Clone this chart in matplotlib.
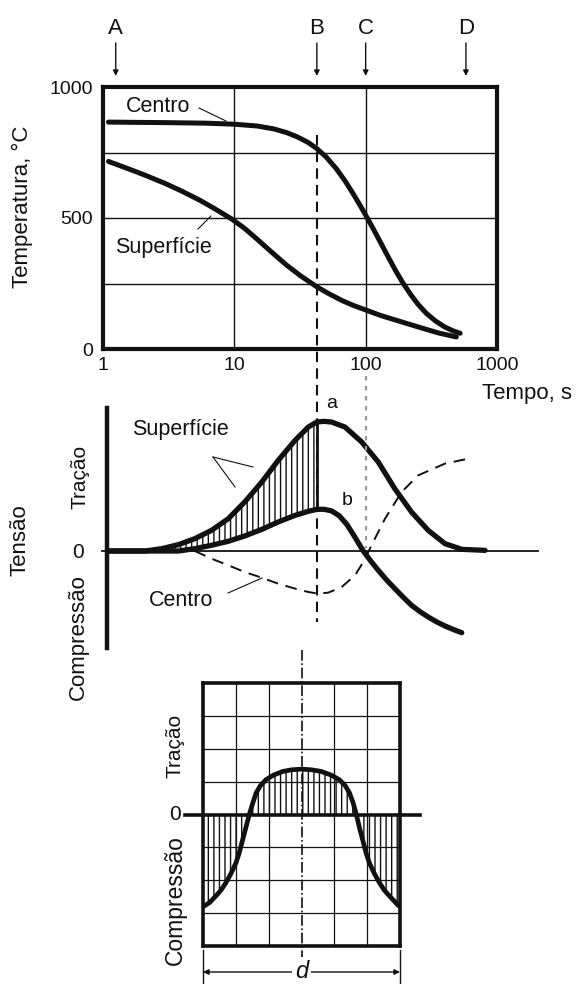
import numpy as np
import matplotlib
matplotlib.use('Agg')
import matplotlib.pyplot as plt
from matplotlib.lines import Line2D
from matplotlib.ticker import NullLocator
from matplotlib.transforms import blended_transform_factory as blend

plt.rcParams['font.family'] = ['Liberation Sans', 'DejaVu Sans']
plt.rcParams['hatch.linewidth'] = 1.0

# ---------------- data ----------------
# top panel: temperature vs time (log)
cen_T_t = [1.1, 3, 6, 10, 15, 20, 25, 30, 36, 42, 50, 60, 70, 80, 90, 100, 115, 130, 150, 170, 190, 220, 250, 290, 340, 400, 460, 524]
cen_T = [866, 864, 862, 858, 851, 840, 826, 810, 790, 767, 733, 687, 640, 594, 551, 511, 456, 406, 347, 297, 256, 208, 171, 136, 107, 84, 70, 60]
sup_T_t = [1.1, 1.5, 2.1, 3, 4, 5.5, 7, 9.5, 12, 15, 19, 25, 32, 42, 52, 66, 80, 100, 130, 170, 220, 280, 360, 490]
sup_T = [716, 691, 663, 631, 602, 567, 537, 497, 460, 418, 372, 320, 279, 239, 212, 185, 167, 149, 128, 110, 93, 77, 61, 46]
x_ticks = [1, 10, 100, 1000]
x_tick_labels = ['1', '10', '100', '1000']
y_ticks = [0, 500, 1000]
y_tick_labels = ['0', '500', '1000']
stage_labels = ['A', 'B', 'C', 'D']
stage_t = [1.25, 42.5, 100, 580]

# middle panel: stress vs time (log)
sup_s_t = [1.07, 2.09, 2.8, 3.75, 5.0, 6.7, 9.0, 12.0, 16.2, 21.6, 29, 36.6, 42.5, 48, 55, 69.7, 93.4, 125, 167, 224, 300, 402, 540, 813]
sup_s = [0, 0, 0.018, 0.049, 0.095, 0.159, 0.249, 0.378, 0.532, 0.699, 0.853, 0.956, 0.995, 1.0, 0.995, 0.956, 0.841, 0.686, 0.48, 0.30, 0.159, 0.057, 0.013, 0.005]
cen_s_t = [1.07, 3.75, 5.0, 6.7, 9.0, 12.0, 16.2, 21.6, 29, 36.6, 42.5, 48, 55, 63, 72, 82, 96, 110, 125, 145, 167, 195, 224, 260, 300, 350, 402, 470, 540]
cen_s = [0, 0, 0.018, 0.044, 0.075, 0.116, 0.167, 0.224, 0.275, 0.306, 0.321, 0.322, 0.31, 0.272, 0.205, 0.115, 0, -0.08, -0.149, -0.225, -0.29, -0.36, -0.419, -0.468, -0.509, -0.548, -0.578, -0.607, -0.63]
cen_dash_t = [5.0, 6.7, 9.0, 12.0, 16.2, 21.6, 29, 36.6, 43.7, 52, 65.7, 83, 96, 111, 140.5, 188, 252, 402, 604]
cen_dash_s = [0, -0.059, -0.11, -0.162, -0.206, -0.252, -0.29, -0.316, -0.329, -0.321, -0.278, -0.188, -0.085, 0.044, 0.249, 0.455, 0.584, 0.674, 0.712]

# bottom panel: residual stress across section d
pos_x = [-2.96, -2.8, -2.6, -2.45, -2.3, -2.15, -2.0, -1.9, -1.8, -1.7, -1.59, -1.48, -1.38, -1.25, -1.08, -0.85, -0.57, -0.3, 0,
         0.3, 0.6, 0.9, 1.15, 1.33, 1.46, 1.57, 1.67, 1.77, 1.87, 1.97, 2.07, 2.22, 2.37, 2.52, 2.7, 2.96]
res_s = [-2.78, -2.68, -2.47, -2.3, -2.07, -1.8, -1.48, -1.18, -0.8, -0.42, 0, 0.36, 0.66, 0.88, 1.06, 1.2, 1.31, 1.36, 1.38,
         1.36, 1.31, 1.2, 1.06, 0.88, 0.66, 0.36, 0, -0.42, -0.8, -1.18, -1.48, -1.8, -2.07, -2.3, -2.5, -2.78]

# ---------------- figure ----------------
W, H = 579, 984
fig = plt.figure(figsize=(W / 100, H / 100), dpi=100)
INK = '#111111'


def fy(y):
    return 1 - y / H


def fx(x):
    return x / W


def rect(l, t, r, b):
    return [l / W, 1 - b / H, (r - l) / W, (b - t) / H]


def ftext(x, y, s, **kw):
    kw.setdefault('fontsize', 15.5)
    kw.setdefault('ha', 'center')
    kw.setdefault('va', 'center')
    kw.setdefault('color', INK)
    fig.text(fx(x), fy(y), s, **kw)


def fline(xs, ys, **kw):
    kw.setdefault('color', INK)
    fig.add_artist(Line2D([fx(v) for v in xs], [fy(v) for v in ys], transform=fig.transFigure, **kw))

# ---- top panel ----
ax1 = fig.add_axes(rect(103, 87, 497, 349))
ax1.set_xscale('log')
ax1.set_xlim(1, 1000)
ax1.set_ylim(0, 1000)
for sp in ax1.spines.values():
    sp.set_linewidth(3)
    sp.set_color(INK)
ax1.xaxis.set_minor_locator(NullLocator())
ax1.set_xticks(x_ticks)
ax1.set_xticklabels(x_tick_labels)
ax1.set_yticks(y_ticks)
ax1.set_yticklabels(y_tick_labels)
ax1.tick_params(axis='x', length=0, labelsize=14, pad=6, colors=INK)
ax1.tick_params(axis='y', length=0, labelsize=14, pad=7, colors=INK)
for v in [250, 500, 750]:
    ax1.axhline(v, color=INK, lw=1.0, zorder=1)
for v in [10, 100]:
    ax1.axvline(v, color=INK, lw=1.0, zorder=1)
ax1.plot(cen_T_t, cen_T, color=INK, lw=3.6, solid_capstyle='round', solid_joinstyle='round', zorder=3)
ax1.plot(sup_T_t, sup_T, color=INK, lw=3.6, solid_capstyle='round', solid_joinstyle='round', zorder=3)

tr1 = blend(ax1.transData, fig.transFigure)
for lab, t in zip(stage_labels, stage_t):
    ax1.annotate('', xy=(t, fy(76)), xytext=(t, fy(43)), xycoords=tr1, textcoords=tr1,
                 arrowprops=dict(arrowstyle='-|>', lw=1.0, color=INK, mutation_scale=8,
                                 shrinkA=0, shrinkB=0), annotation_clip=False)
    ax1.text(t, fy(28), lab, transform=tr1, fontsize=16, ha='center', va='center', color=INK, clip_on=False)

# B dashed line across panels, C dotted line
fig.add_artist(Line2D([stage_t[1], stage_t[1]], [fy(135), fy(622)], transform=tr1,
                      color=INK, lw=1.5, ls=(0, (5, 3))))
fig.add_artist(Line2D([stage_t[2], stage_t[2]], [fy(376), fy(548)], transform=tr1,
                      color='#999999', lw=1.6, ls=(0, (2, 2.5))))

ftext(22, 207, 'Temperatura, °C', rotation=90, fontsize=16)
ftext(158, 106, 'Centro')
fline([199, 226], [108, 121], lw=0.8)
ftext(163, 247, 'Superfície')
fline([198, 211], [229, 216], lw=0.8)
ftext(482, 394, 'Tempo, s', ha='left', fontsize=16)

# ---- middle panel ----
ax2 = fig.add_axes(rect(107, 408, 538, 648))
ax2.set_xscale('log')
ax2.set_xlim(1.073, 2056)
ax2.set_ylim(-0.748, 1.103)
ax2.patch.set_alpha(0)
for k, sp in ax2.spines.items():
    sp.set_visible(k == 'left')
ax2.spines['left'].set_linewidth(3.2)
ax2.spines['left'].set_color(INK)
ax2.set_xticks([])
ax2.set_yticks([])
ax2.xaxis.set_minor_locator(NullLocator())
ax2.axhline(0, xmin=-0.012, xmax=1, color=INK, lw=1.3, clip_on=False, zorder=2)

# hatched region between surface and centre up to B
sup_arr_t = np.array(sup_s_t)
sup_arr = np.array(sup_s)
mask = (sup_arr_t >= 2.8) & (sup_arr_t <= stage_t[1])
ht = sup_arr_t[mask]
hs = sup_arr[mask]
hc = np.interp(np.log(ht), np.log(cen_s_t), cen_s)
ax2.fill_between(ht, hc, hs, facecolor='none', edgecolor=INK, hatch='|||', lw=0, zorder=2)
ax2.vlines(stage_t[1], np.interp(np.log(stage_t[1]), np.log(cen_s_t), cen_s),
           np.interp(np.log(stage_t[1]), np.log(sup_s_t), sup_s), color=INK, lw=2.0, zorder=3)

ax2.plot(sup_s_t, sup_s, color=INK, lw=3.8, solid_capstyle='round', solid_joinstyle='round', zorder=4)
ax2.plot(cen_s_t, cen_s, color=INK, lw=3.8, solid_capstyle='round', solid_joinstyle='round', zorder=4)
ax2.plot(cen_dash_t, cen_dash_s, color=INK, lw=1.4, ls=(0, (6, 4)), zorder=3)

ftext(332, 403, 'a', fontsize=14)
ftext(347, 500, 'b', fontsize=14)
ftext(180, 430, 'Superfície')
fline([213, 253], [457, 467], lw=0.8)
fline([213, 235], [457, 487], lw=0.8)
ftext(181, 600, 'Centro')
fline([228, 262], [593, 578], lw=0.8)
ftext(20, 540, 'Tensão', rotation=90, fontsize=16)
ftext(80, 477, 'Tração', rotation=90, fontsize=15)
ftext(78, 552, '0', fontsize=15)
ftext(78, 637, 'Compressão', rotation=90, fontsize=16)

# ---- bottom panel ----
ax3 = fig.add_axes(rect(203, 683, 400, 946))
ax3.set_xlim(-3, 3)
ax3.set_ylim(-4, 4)
for sp in ax3.spines.values():
    sp.set_linewidth(2.6)
    sp.set_color(INK)
ax3.set_xticks([])
ax3.set_yticks([])
for v in [-2, -1, 1, 2]:
    ax3.axvline(v, color=INK, lw=0.9, zorder=1)
for v in [-3, -2, -1, 1, 2, 3]:
    ax3.axhline(v, color=INK, lw=0.9, zorder=1)
ax3.axhline(0, xmin=-0.09, xmax=1.1, color=INK, lw=2.6, clip_on=False, zorder=4)
ax3.fill_between(pos_x, 0, res_s, facecolor='none', edgecolor=INK, hatch='|||', lw=0, zorder=2)
ax3.plot(pos_x, res_s, color=INK, lw=3.4, solid_capstyle='round', solid_joinstyle='round', zorder=5)

tr3 = blend(ax3.transData, fig.transFigure)
fig.add_artist(Line2D([0, 0], [fy(650), fy(962)], transform=tr3, color=INK, lw=1.2, ls='-.'))
for v in [-3, 3]:
    fig.add_artist(Line2D([v, v], [fy(950), fy(984)], transform=tr3, color=INK, lw=1.0))
ax3.annotate('', xy=(-3, fy(972)), xytext=(3, fy(972)), xycoords=tr3, textcoords=tr3,
             arrowprops=dict(arrowstyle='<|-|>', lw=1.0, color=INK, mutation_scale=8,
                             shrinkA=0, shrinkB=0), annotation_clip=False)
fig.text(0, fy(971), 'd', transform=tr3, fontsize=17, style='italic', ha='center', va='center',
         color=INK, bbox=dict(facecolor='white', edgecolor='none', pad=2), zorder=10)

ftext(175, 746, 'Tração', rotation=90, fontsize=15)
ftext(175, 815, '0', fontsize=15)
ftext(175, 900, 'Compressão', rotation=90, fontsize=16.5)

fig.savefig('out.png', dpi=100)
